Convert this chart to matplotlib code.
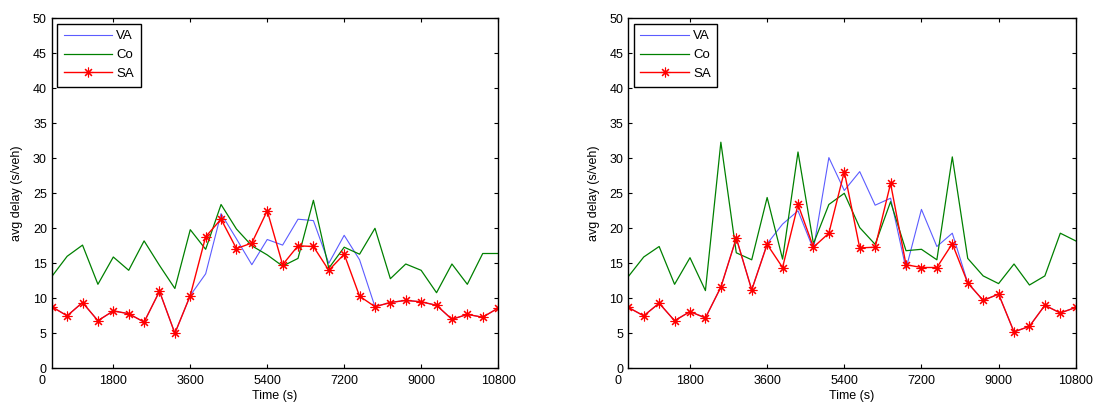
import numpy as np
import matplotlib
matplotlib.use("Agg")
import matplotlib.pyplot as plt

plt.rcParams["font.family"] = ["Liberation Sans", "DejaVu Sans"]
plt.rcParams["font.size"] = 9

# -----------------------
# Data (sampled every 360 s)
# -----------------------
time_s = np.arange(1, 31) * 360

va_left = [8.8, 7.5, 9.4, 6.8, 8.2, 7.8, 6.6, 11.0, 5.0, 10.4,
           13.5, 22.1, 18.5, 14.8, 18.4, 17.6, 21.3, 21.1, 15.0, 19.0,
           15.5, 8.8, 9.4, 9.7, 9.5, 9.0, 7.0, 7.7, 7.3, 8.6]
co_left = [13.1, 16.0, 17.6, 12.0, 15.9, 14.0, 18.2, 14.7, 11.4, 19.8,
           17.0, 23.4, 19.9, 17.5, 16.2, 14.6, 15.7, 24.0, 14.3, 17.3,
           16.3, 20.0, 12.8, 14.9, 14.0, 10.8, 14.9, 12.0, 16.4, 16.4]
sa_left = [8.8, 7.5, 9.4, 6.8, 8.2, 7.8, 6.6, 11.0, 5.0, 10.4,
           18.8, 21.3, 17.1, 17.9, 22.5, 14.8, 17.5, 17.4, 14.0, 16.3,
           10.3, 8.8, 9.4, 9.7, 9.5, 9.0, 7.0, 7.7, 7.3, 8.6]

va_right = [8.7, 7.5, 9.3, 6.8, 8.1, 7.2, 11.6, 18.6, 11.2, 17.8,
            20.6, 22.5, 17.0, 30.1, 25.4, 28.1, 23.3, 24.3, 14.2, 22.7,
            17.4, 19.3, 12.2, 9.7, 10.6, 5.2, 6.0, 9.0, 7.9, 8.7]
co_right = [13.1, 15.9, 17.4, 12.0, 15.8, 11.1, 32.3, 16.5, 15.5, 24.4,
            15.6, 30.9, 17.8, 23.4, 25.0, 20.1, 17.7, 23.8, 16.8, 17.0,
            15.5, 30.2, 15.7, 13.2, 12.1, 14.9, 11.9, 13.2, 19.3, 18.2]
sa_right = [8.7, 7.5, 9.3, 6.8, 8.1, 7.2, 11.6, 18.6, 11.2, 17.7,
            14.4, 23.4, 17.3, 19.3, 28.1, 17.2, 17.3, 26.4, 14.8, 14.4,
            14.4, 17.8, 12.2, 9.7, 10.6, 5.2, 6.0, 9.0, 7.9, 8.7]

xticks = [1800, 3600, 5400, 7200, 9000, 10800]
yticks = np.arange(0, 51, 5)

# -----------------------
# Figure
# -----------------------
fig = plt.figure(figsize=(10.94, 4.03), dpi=100)
ax1 = fig.add_axes([0.0473, 0.0861, 0.408, 0.8685])
ax2 = fig.add_axes([0.5743, 0.0861, 0.409, 0.8685])

asterisk = (8, 2, 0)

for ax, va, co, sa in [(ax1, va_left, co_left, sa_left),
                       (ax2, va_right, co_right, sa_right)]:
    ax.plot(time_s, va, color="#5c5cff", lw=0.8, label="VA")
    ax.plot(time_s, co, color="#008000", lw=0.9, label="Co")
    ax.plot(time_s, sa, color="#ff0000", lw=1.0, marker=asterisk,
            markersize=7, markeredgewidth=0.8, label="SA")

    ax.set_xlim(time_s[0], time_s[-1])
    ax.set_ylim(0, 50)
    ax.set_xticks(xticks)
    ax.set_yticks(yticks)
    ax.tick_params(direction="in", top=True, right=True, length=3,
                   width=0.8, labelsize=9)
    ax.tick_params(axis="x", pad=5)
    # "0" label sits just left of the axis start
    ax.annotate("0", xy=(0, 0), xycoords="axes fraction",
                xytext=(-7.2, -5), textcoords="offset points",
                ha="center", va="top", fontsize=9)
    for s in ax.spines.values():
        s.set_linewidth(1.0)
    ax.set_xlabel("Time (s)", labelpad=2)
    ax.set_ylabel("avg delay (s/veh)", labelpad=7)

    leg = ax.legend(loc="upper left", fancybox=False, framealpha=1,
                    edgecolor="black", handlelength=3.7, labelspacing=0.5,
                    borderaxespad=0.4, handletextpad=0.3, borderpad=0.5,
                    fontsize=9.5)
    leg.get_frame().set_linewidth(1.0)

fig.savefig("out.png", dpi=100)
